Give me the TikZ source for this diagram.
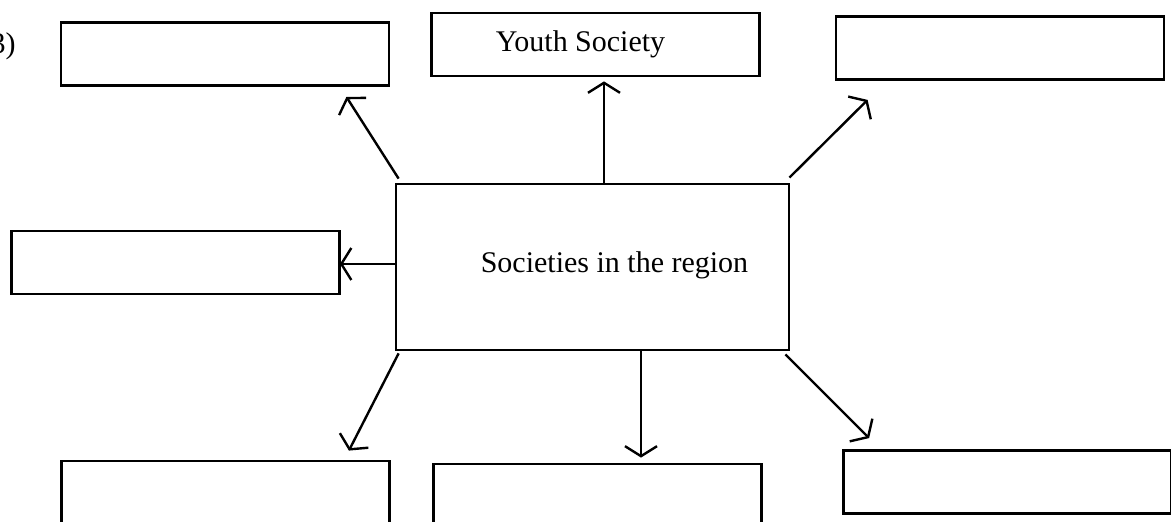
\documentclass[tikz,border=0pt]{standalone}
\usepackage{fontspec}
\setmainfont{Liberation Serif}
\usetikzlibrary{arrows.meta,calc}

\tikzset{
  box/.style={draw, line width=1.4pt, minimum width=164pt, minimum height=31.5pt, inner sep=0pt},
  link/.style={line width=1.2pt, ->}
}

\begin{document}
\begin{tikzpicture}[x=0.5pt, y=-0.5pt, >={Straight Barb[length=5pt,width=16pt]},
  font=\fontsize{15}{18}\selectfont]

\useasboundingbox (0,0) rectangle (1171,522);
\clip (0,0) rectangle (1171,522);

\node[anchor=east, inner sep=0pt] (num) at (16,46) {3)};

% the centre box and the boxes round it
\node[box, minimum width=196.5pt, minimum height=83pt] (soc) at (592.5,267) {\hspace*{22pt}Societies in the region\raisebox{0pt}[0pt][5pt]{}};
\node[box] (tl) at (225,54) {};
\node[box] (youth) at (595.5,44.5) {Youth Society\hspace*{15pt}};
\node[box] (tr) at (1000,48) {};
\node[box] (lt) at (175.5,262.5) {};
\node[box] (bl) at (225.5,492.5) {};
\node[box] (bm) at (597.5,495.5) {};
\node[box] (br) at (1007.5,482) {};

\draw[link] ($(soc.north west)+(4,-4)$) -- ($(tl.south east)+(-44,10)$);
\draw[link] ($(soc.north)+(11.5,0)$) -- ($(youth.south)+(8.5,4)$);
\draw[link] ($(soc.north east)+(-1,-5)$) -- ($(tr.south west)+(33,19)$);
\draw[link] ($(soc.west)+(1,-3)$) -- ($(lt.east)+(-1,1.5)$);
\draw[link] ($(soc.south west)+(4,2)$) -- ($(bl.north east)+(-42,-9)$);
\draw[link] ($(soc.south)+(48.5,0)$) -- ($(bm.north)+(43.5,-5)$);
\draw[link] ($(soc.south east)+(-5,3)$) -- ($(br.north west)+(27,-11)$);

\end{tikzpicture}
\end{document}
